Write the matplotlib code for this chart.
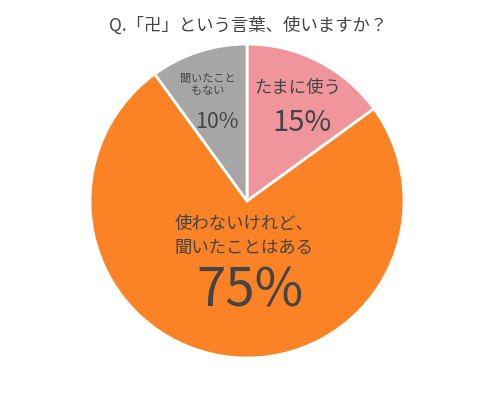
import matplotlib
matplotlib.use("Agg")
import matplotlib.pyplot as plt

plt.rcParams['font.family'] = ['Noto Sans CJK JP', 'DejaVu Sans']

title = "Q.「卍」という言葉、使いますか？"
categories = ["たまに使う", "使わないけれど、\n聞いたことはある", "聞いたこと\nもない"]
values = [15, 75, 10]
colors = ["#F1959C", "#FC8226", "#A6A6A6"]
text_color = "#444444"

W, H = 500, 399
fig = plt.figure(figsize=(W / 100, H / 100), dpi=100)
ax = fig.add_axes([0, 0, 1, 1])

cx, cy, r = 247, H - 201, 157
ax.pie(values, colors=colors, startangle=90, counterclock=False,
       center=(cx, cy), radius=r, frame=True,
       wedgeprops=dict(edgecolor='white', linewidth=2))
ax.set_xlim(0, W)
ax.set_ylim(0, H)
ax.set_aspect('equal')
ax.axis('off')

def T(x, y, s, size, ha='center', **kw):
    ax.text(x, H - y, s, fontsize=size, ha=ha, va='center', color=text_color, **kw)

T(248, 26, title, 12.5)

# 15%
T(298, 88, categories[0], 12.5)
T(302, 123, f"{values[0]}%", 21)
# 10%
T(208, 85, categories[2], 8, linespacing=1.3)
T(217, 122, f"{values[2]}%", 15.5)
# 75%
T(175, 236, categories[1], 12.5, ha='left', linespacing=1.45)
T(250, 291, f"{values[1]}%", 38)

fig.savefig("out.png", dpi=100)
